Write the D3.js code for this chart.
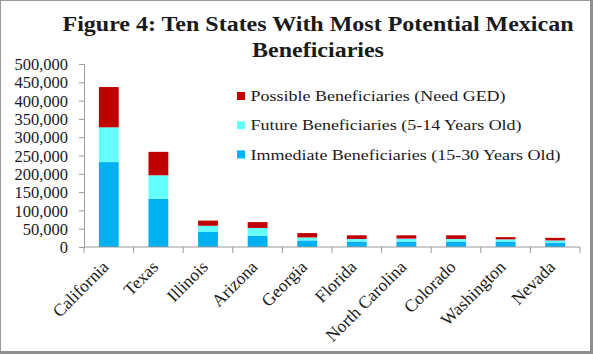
<!DOCTYPE html>
<html>
<head>
<meta charset="utf-8">
<script src="https://d3js.org/d3.v7.min.js"></script>
<style>
  body { margin: 0; background: #fff; }
  svg { display: block; }
  text { font-family: "Liberation Serif", "Times New Roman", serif; fill: #1a1a1a; }
</style>
</head>
<body>
<svg id="chart"></svg>
<script>
  // Data (number of people)
  const states = ["California", "Texas", "Illinois", "Arizona", "Georgia",
                  "Florida", "North Carolina", "Colorado", "Washington", "Nevada"];
  const immediate = [232000, 132000, 41000, 31000, 18000, 15000, 15000, 15000, 15000, 12000];
  const future    = [95000, 64000, 17000, 21000, 8000, 7000, 8000, 7000, 6000, 6000];
  const possible  = [110000, 64000, 14000, 16000, 12000, 10000, 9000, 10000, 6000, 7000];
  const yTicks = [0, 50000, 100000, 150000, 200000, 250000, 300000, 350000, 400000, 450000, 500000];

  const seriesNames = ["Immediate Beneficiaries (15-30 Years Old)",
                       "Future Beneficiaries (5-14 Years Old)",
                       "Possible Beneficiaries (Need GED)"];
  const colors = ["#00B0F0", "#66FFFF", "#C00000"];

  const width = 593, height = 354;
  const margin = { left: 84, right: 13, top: 64, bottom: 107 };
  const stretch = 1.2; // the original figure is a little wider than its fonts

  const svg = d3.select("#chart")
    .attr("width", width)
    .attr("height", height);

  // outer frame
  svg.append("rect").attr("x", 0.5).attr("y", 0.5).attr("width", width - 1).attr("height", height - 1)
    .attr("fill", "#fff").attr("stroke", "#9a9a9a");
  svg.append("rect").attr("x", width - 3).attr("y", 0).attr("width", 3).attr("height", height).attr("fill", "#8f8f8f");
  svg.append("rect").attr("x", 0).attr("y", height - 3).attr("width", width).attr("height", 3).attr("fill", "#8f8f8f");

  // title
  const title = svg.append("text")
    .attr("text-anchor", "middle")
    .attr("transform", `translate(318,0) scale(${stretch},1)`)
    .style("font-weight", "bold")
    .style("font-size", "20px");
  title.append("tspan").attr("x", 0).attr("y", 31).text("Figure 4: Ten States With Most Potential Mexican");
  title.append("tspan").attr("x", 0).attr("y", 57).text("Beneficiaries");

  const table = states.map((s, i) => ({ state: s, imm: immediate[i], fut: future[i], pos: possible[i] }));
  const stack = d3.stack().keys(["imm", "fut", "pos"])(table);

  const x = d3.scaleBand()
    .domain(states)
    .range([margin.left, width - margin.right])
    .paddingInner(0.6)
    .paddingOuter(0.3);

  const y = d3.scaleLinear()
    .domain([0, 500000])
    .range([height - margin.bottom, margin.top]);

  // bars
  svg.append("g").selectAll("g")
    .data(stack)
    .enter()
    .append("g")
    .attr("fill", (d, i) => colors[i])
    .selectAll("rect")
    .data(d => d)
    .enter()
    .append("rect")
    .attr("x", d => x(d.data.state))
    .attr("y", d => y(d[1]))
    .attr("width", x.bandwidth())
    .attr("height", d => y(d[0]) - y(d[1]));

  // y axis
  const yAxis = svg.append("g")
    .attr("transform", `translate(${margin.left},0)`)
    .call(d3.axisLeft(y).tickValues(yTicks).tickSize(5).tickPadding(11)
      .tickFormat(d3.format(",")));
  yAxis.selectAll("text").style("font-size", "16.5px").attr("dy", "0.34em");
  yAxis.select(".domain").attr("stroke", "#9a9a9a");
  yAxis.selectAll(".tick line").attr("stroke", "#9a9a9a");

  // x axis, ticks at band boundaries
  const xAxis = svg.append("g")
    .attr("transform", `translate(0,${height - margin.bottom})`);
  xAxis.append("line")
    .attr("x1", margin.left).attr("x2", width - margin.right)
    .attr("stroke", "#9a9a9a");
  const edges = d3.range(states.length + 1).map(i => margin.left + i * (width - margin.left - margin.right) / states.length);
  xAxis.selectAll(".tk")
    .data(edges)
    .enter()
    .append("line")
    .attr("x1", d => d).attr("x2", d => d)
    .attr("y1", 0).attr("y2", 6)
    .attr("stroke", "#9a9a9a");
  xAxis.selectAll(".lbl")
    .data(states)
    .enter()
    .append("text")
    .attr("text-anchor", "end")
    .style("font-size", "17.5px")
    .attr("transform", d => `translate(${x(d) + x.bandwidth() / 2 + 1},${21}) rotate(-45)`)
    .text(d => d);

  // legend (reverse order, top = Possible)
  const legend = svg.append("g");
  const order = [2, 1, 0];
  order.forEach((k, i) => {
    const g = legend.append("g").attr("transform", `translate(237,${96 + i * 29.2})`);
    g.append("rect").attr("x", 0).attr("y", -4).attr("width", 8).attr("height", 8).attr("fill", colors[k]);
    g.append("text")
      .attr("transform", `translate(13.5,0) scale(${stretch},1)`)
      .attr("dy", "0.35em").style("font-size", "15px").text(seriesNames[k]);
  });
</script>
</body>
</html>
